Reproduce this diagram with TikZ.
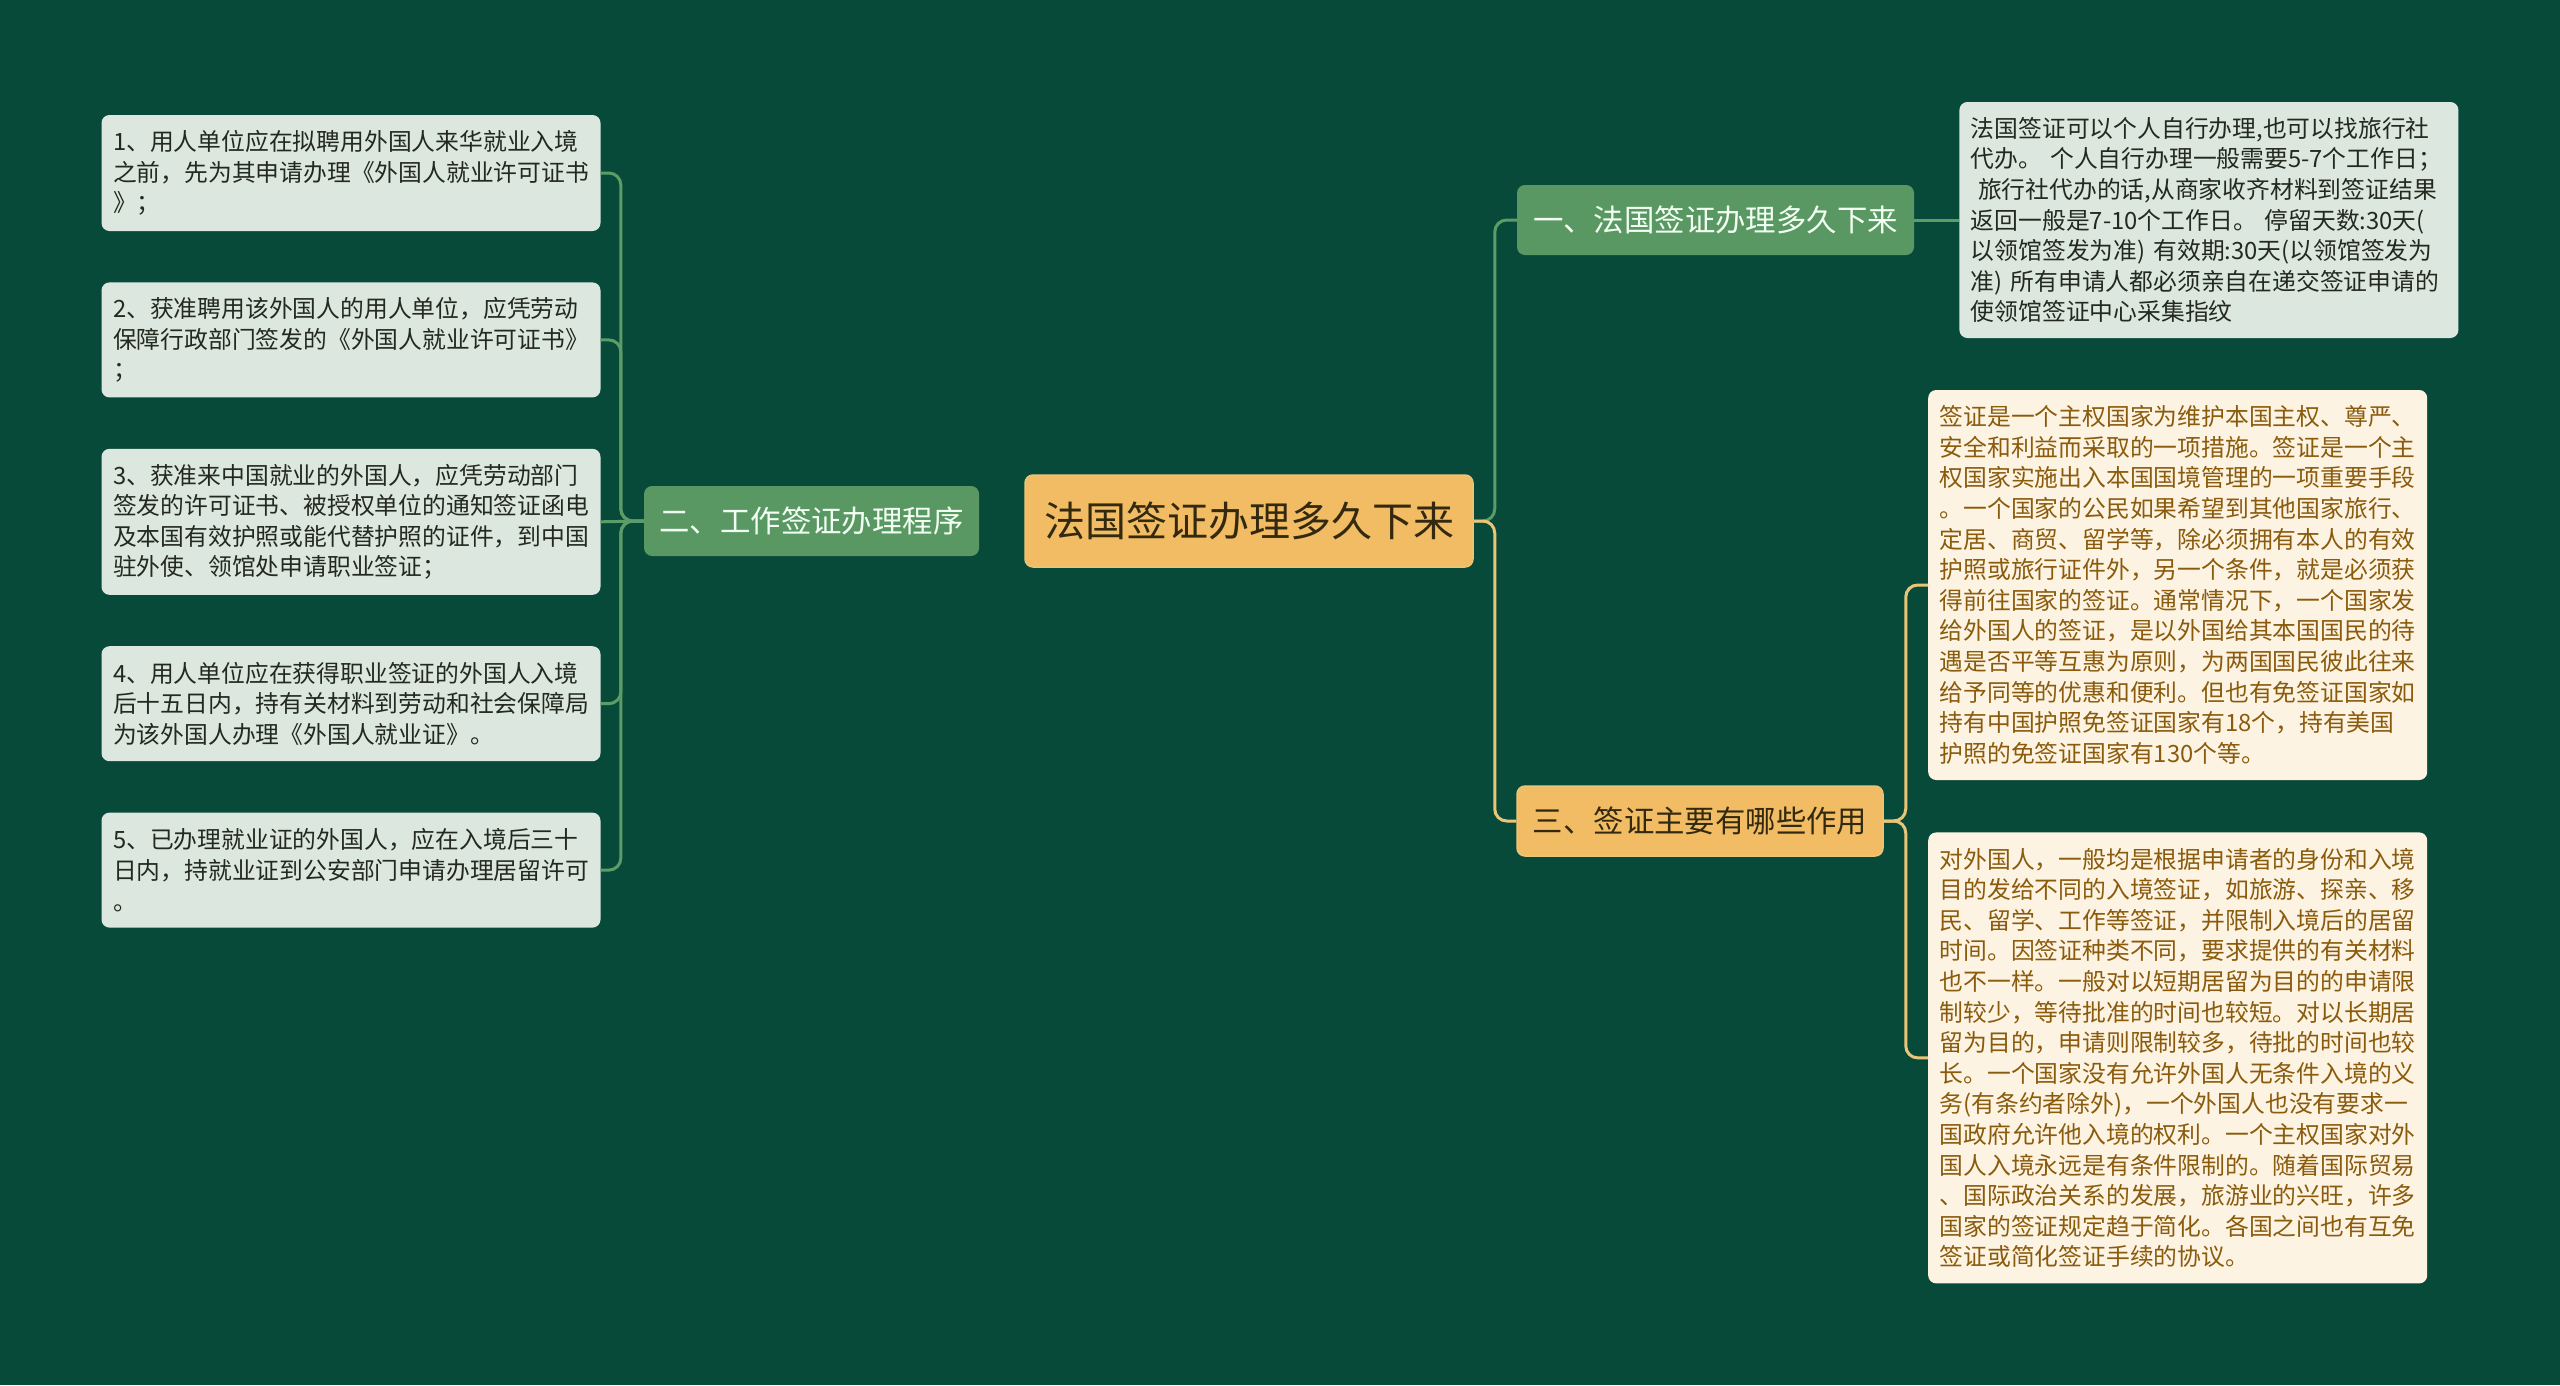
\documentclass[tikz,border=0pt]{standalone}
\usepackage{fontspec}
\setmainfont{Noto Sans CJK SC}
\usepackage{tikz}
\usetikzlibrary{positioning}

\definecolor{bgcol}{HTML}{084A39}
\definecolor{glinecol}{HTML}{5C9C68}
\definecolor{ylinecol}{HTML}{EBC577}
\definecolor{rootfill}{HTML}{F2BC64}
\definecolor{greenfill}{HTML}{5A9863}
\definecolor{leaffill}{HTML}{DCE8DF}
\definecolor{creamfill}{HTML}{FDF3E2}
\definecolor{browntext}{HTML}{8A5B0C}
\definecolor{darktext}{HTML}{23291F}
\definecolor{roottext}{HTML}{33290F}

\tikzset{
  rootbox/.style={rectangle, rounded corners=8pt, fill=rootfill, draw=ylinecol, line width=1.5pt, text=roottext, minimum width=448pt, minimum height=92pt, font=\fontsize{41}{48}\selectfont},
  branchbox/.style={rectangle, rounded corners=8pt, fill=greenfill, text=white!95!green, minimum height=70pt, font=\fontsize{30.4}{36}\selectfont},
  leafbox/.style={rectangle, rounded corners=8pt, fill=leaffill, text=darktext, align=left, text width=476pt, inner xsep=11.5pt, inner ysep=6pt, font=\fontsize{23.8}{30.6}\selectfont},
  creambox/.style={leafbox, fill=creamfill, text=browntext},
  gconn/.style={draw=glinecol, line width=3pt, rounded corners=12pt},
  yconn/.style={draw=ylinecol, line width=3pt, rounded corners=12pt}
}

\begin{document}
\begin{tikzpicture}[x=1pt, y=-1pt]
\fill[bgcol] (0,0) rectangle (2560,1385);

% Root
\node[rootbox] (root) at (1249,521) {法国签证办理多久下来};

% Branches
\node[branchbox, minimum width=335pt, left=45pt of root] (b2) {二、工作签证办理程序};
\node[branchbox, minimum width=397pt] (b1) at (1715.5,220) {一、法国签证办理多久下来};
\node[branchbox, minimum width=366pt, fill=rootfill, draw=ylinecol, line width=1.5pt, text=roottext] (b3) at (1700,821) {三、签证主要有哪些作用};

% Work visa steps
\node[leafbox, minimum height=116pt] (l1) at (351,173) {1、用人单位应在拟聘用外国人来华就业入境\\之前，先为其申请办理《外国人就业许可证书\\》；};
\node[leafbox, minimum height=115pt, below=51pt of l1] (l2) {2、获准聘用该外国人的用人单位，应凭劳动\\保障行政部门签发的《外国人就业许可证书》\\；};
\node[leafbox, minimum height=146pt, below=51pt of l2] (l3) {3、获准来中国就业的外国人，应凭劳动部门\\签发的许可证书、被授权单位的通知签证函电\\及本国有效护照或能代替护照的证件，到中国\\驻外使、领馆处申请职业签证；};
\node[leafbox, minimum height=115pt, below=51pt of l3] (l4) {4、用人单位应在获得职业签证的外国人入境\\后十五日内，持有关材料到劳动和社会保障局\\为该外国人办理《外国人就业证》。};
\node[leafbox, minimum height=115pt, below=51pt of l4] (l5) {5、已办理就业证的外国人，应在入境后三十\\日内，持就业证到公安部门申请办理居留许可\\。};

% Processing time
\node[leafbox, minimum height=236pt, right=45pt of b1] (r1) {法国签证可以个人自行办理,也可以找旅行社\\代办。 个人自行办理一般需要5-7个工作日；\\\hspace*{0.3em}旅行社代办的话,从商家收齐材料到签证结果\\返回一般是7-10个工作日。 停留天数:30天(\\以领馆签发为准) 有效期:30天(以领馆签发为\\准) 所有申请人都必须亲自在递交签证申请的\\使领馆签证中心采集指纹};

% Purpose of visas
\node[creambox, minimum height=390pt, anchor=west] (r2) at (1928,585) {签证是一个主权国家为维护本国主权、尊严、\\安全和利益而采取的一项措施。签证是一个主\\权国家实施出入本国国境管理的一项重要手段\\。一个国家的公民如果希望到其他国家旅行、\\定居、商贸、留学等，除必须拥有本人的有效\\护照或旅行证件外，另一个条件，就是必须获\\得前往国家的签证。通常情况下，一个国家发\\给外国人的签证，是以外国给其本国国民的待\\遇是否平等互惠为原则，为两国国民彼此往来\\给予同等的优惠和便利。但也有免签证国家如\\持有中国护照免签证国家有18个，持有美国\\护照的免签证国家有130个等。};
\node[creambox, minimum height=451pt, below=52pt of r2] (r3) {对外国人，一般均是根据申请者的身份和入境\\目的发给不同的入境签证，如旅游、探亲、移\\民、留学、工作等签证，并限制入境后的居留\\时间。因签证种类不同，要求提供的有关材料\\也不一样。一般对以短期居留为目的的申请限\\制较少，等待批准的时间也较短。对以长期居\\留为目的，申请则限制较多，待批的时间也较\\长。一个国家没有允许外国人无条件入境的义\\务(有条约者除外)，一个外国人也没有要求一\\国政府允许他入境的权利。一个主权国家对外\\国人入境永远是有条件限制的。随着国际贸易\\、国际政治关系的发展，旅游业的兴旺，许多\\国家的签证规定趋于简化。各国之间也有互免\\签证或简化签证手续的协议。};

% Connectors
\foreach \leaf in {l1,l2,l4,l5}
  \draw[gconn] (b2.west) -- ++(-23,0) |- (\leaf.east);
\draw[gconn] (b2.west) -- (l3.east);
\draw[gconn] (root.east) -- ++(21,0) |- (b1.west);
\draw[yconn] (root.east) -- ++(21,0) |- (b3.west);
\draw[gconn] (b1.east) -- (r1.west);
\draw[yconn] (b3.east) -- ++(22,0) |- (r2.west);
\draw[yconn] (b3.east) -- ++(22,0) |- (r3.west);

\end{tikzpicture}
\end{document}
